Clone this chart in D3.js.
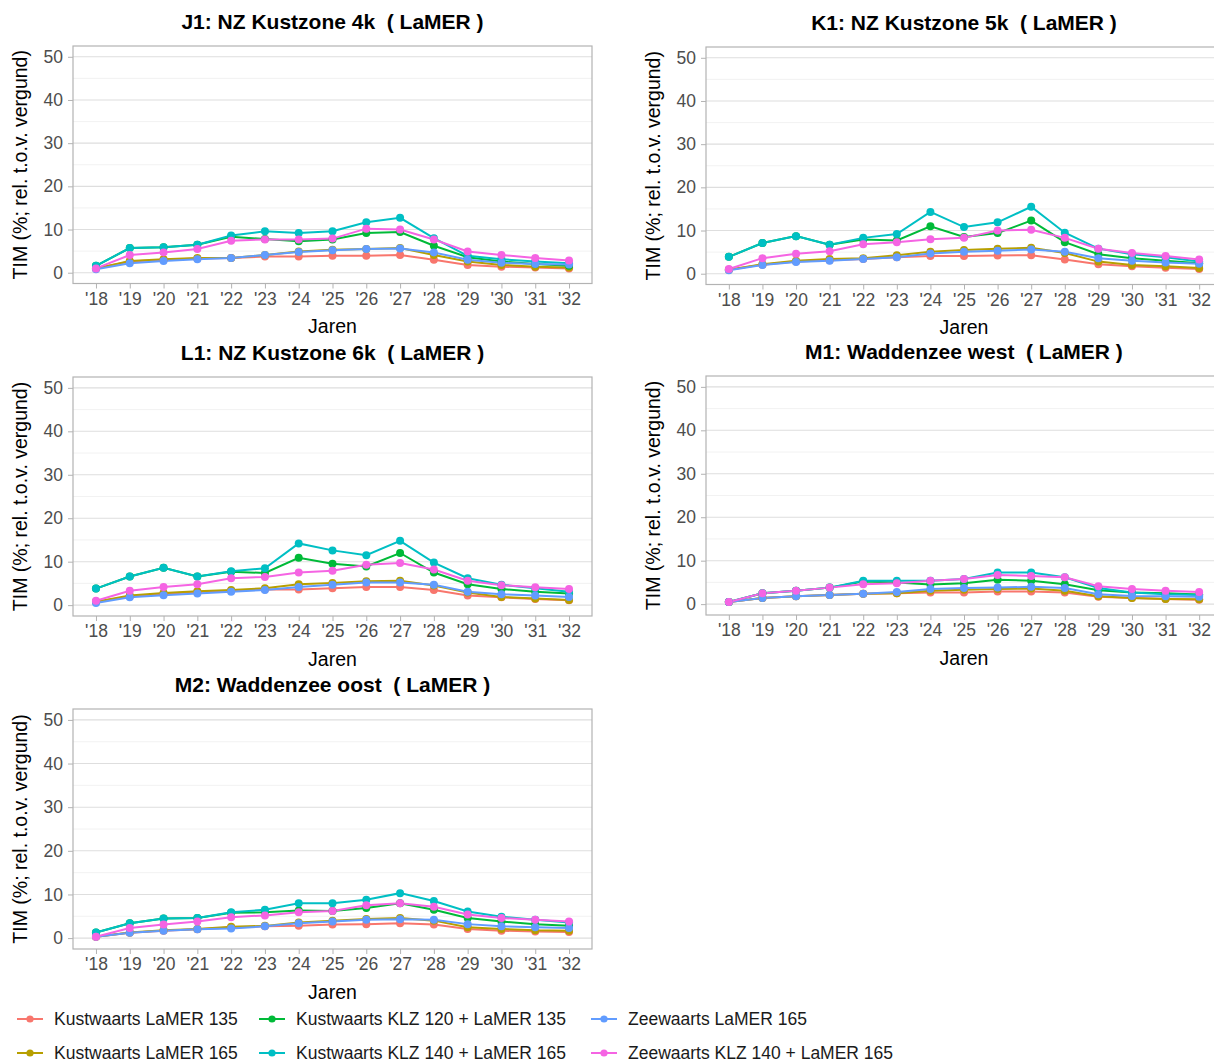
<!DOCTYPE html>
<html>
<head>
<meta charset="utf-8">
<title>TIM per gebied</title>
<script src="https://d3js.org/d3.v7.min.js"></script>
<style>
body{margin:0;background:#fff;}
svg{font-family:"Liberation Sans",Arial,sans-serif;}
text.title{white-space:pre;}
</style>
</head>
<body>
<svg id="chart" width="1214" height="1063"></svg>
<script>
// years on the x axis
var years=[2018,2019,2020,2021,2022,2023,2024,2025,2026,2027,2028,2029,2030,2031,2032];
var yearLabels=["'18","'19","'20","'21","'22","'23","'24","'25","'26","'27","'28","'29","'30","'31","'32"];
var yTicks=[0,10,20,30,40,50];

// series, in ggplot group order
var seriesNames=["Kustwaarts LaMER 135","Kustwaarts LaMER 165","Kustwaarts KLZ 120 + LaMER 135",
                 "Kustwaarts KLZ 140 + LaMER 165","Zeewaarts LaMER 165","Zeewaarts KLZ 140 + LaMER 165"];
var seriesColors=["#F8766D","#B79F00","#00BA38","#00BFC4","#619CFF","#F564E3"];

// values per panel: one row per series (same order as seriesNames)
var J1=[
 [1.0,2.6,3.0,3.3,3.4,3.75,3.75,3.9,3.9,4.1,3.0,1.8,1.4,1.2,1.0],
 [1.0,2.7,3.1,3.4,3.4,4.1,4.9,5.3,5.5,5.7,4.1,2.6,1.8,1.4,1.2],
 [1.6,5.7,5.9,6.5,8.3,7.8,7.3,7.7,9.2,9.4,6.25,3.6,2.6,2.0,1.6],
 [1.6,5.7,5.9,6.5,8.6,9.6,9.2,9.6,11.7,12.7,8.0,3.9,3.1,2.6,2.2],
 [0.8,2.2,2.7,3.1,3.4,4.1,4.8,5.2,5.5,5.6,4.7,3.0,2.3,2.0,1.9],
 [1.0,4.1,4.7,5.5,7.4,7.7,7.7,7.9,10.2,10.0,7.7,4.9,4.1,3.4,2.8]
];
var K1=[
 [0.9,2.1,2.8,3.1,3.4,3.8,4.1,4.1,4.2,4.3,3.3,2.2,1.7,1.4,1.1],
 [0.9,2.2,3.0,3.4,3.6,4.3,5.1,5.5,5.8,6.0,4.8,2.8,2.0,1.7,1.3],
 [3.9,7.1,8.7,6.7,7.9,7.7,11.0,8.5,9.4,12.3,7.3,4.5,3.6,3.0,2.4],
 [3.9,7.1,8.7,6.7,8.3,9.2,14.3,10.8,11.9,15.5,9.5,5.8,4.5,3.8,2.8],
 [0.8,2.0,2.7,3.0,3.4,3.8,4.7,5.1,5.3,5.6,5.1,3.6,3.0,2.6,2.3],
 [1.1,3.6,4.6,5.2,6.8,7.3,8.0,8.3,10.0,10.2,8.3,5.8,4.8,4.1,3.3]
];
var L1=[
 [0.8,2.0,2.6,3.0,3.3,3.6,3.6,3.9,4.2,4.2,3.5,2.2,1.8,1.4,1.1],
 [0.8,2.2,2.8,3.2,3.5,3.9,4.8,5.1,5.5,5.6,4.5,2.9,1.9,1.5,1.2],
 [3.8,6.6,8.6,6.6,7.7,7.4,10.9,9.5,8.9,12.0,7.5,4.8,3.7,3.1,2.7],
 [3.8,6.6,8.6,6.6,7.8,8.5,14.2,12.6,11.5,14.8,9.8,6.2,4.7,3.9,3.1],
 [0.5,1.8,2.3,2.7,3.1,3.5,4.2,4.7,5.2,5.2,4.7,3.1,2.5,2.2,1.9],
 [1.0,3.3,4.2,4.8,6.2,6.5,7.5,7.9,9.3,9.7,8.2,5.6,4.6,4.1,3.7]
];
var M1=[
 [0.5,1.4,1.8,2.1,2.4,2.5,2.7,2.7,2.9,2.9,2.7,1.7,1.4,1.2,1.0],
 [0.5,1.4,1.8,2.1,2.4,2.5,3.1,3.3,3.5,3.6,3.1,1.8,1.4,1.2,1.1],
 [0.5,2.5,3.1,3.8,5.2,5.0,4.5,4.8,5.6,5.4,4.6,3.2,2.7,2.5,2.2],
 [0.5,2.5,3.1,3.8,5.4,5.4,5.4,5.8,7.3,7.3,6.2,3.7,2.7,2.3,2.1],
 [0.5,1.4,1.8,2.1,2.4,2.8,3.5,3.7,3.8,4.0,3.7,2.3,1.9,1.8,1.7],
 [0.5,2.5,3.1,3.8,4.6,4.8,5.4,5.8,6.7,6.5,6.2,4.1,3.5,3.1,2.8]
];
var M2=[
 [0.3,1.2,1.7,2.0,2.4,2.7,2.8,3.1,3.2,3.4,3.1,2.1,1.7,1.5,1.4],
 [0.3,1.3,1.8,2.1,2.6,2.8,3.6,4.0,4.4,4.6,4.0,2.5,2.1,1.8,1.7],
 [1.3,3.4,4.5,4.6,5.8,5.9,6.3,6.2,6.9,8.0,6.5,4.6,3.8,3.2,2.8],
 [1.3,3.4,4.5,4.6,5.9,6.5,8.0,8.0,8.8,10.3,8.5,6.1,4.9,4.2,3.6],
 [0.3,1.2,1.7,2.0,2.2,2.7,3.4,3.8,4.2,4.3,4.2,3.2,2.7,2.5,2.3],
 [0.3,2.3,3.1,3.8,4.8,5.2,5.9,6.2,7.5,8.0,7.2,5.4,4.6,4.2,3.8]
];

var panelTitles=["J1: NZ Kustzone 4k  ( LaMER )","K1: NZ Kustzone 5k  ( LaMER )","L1: NZ Kustzone 6k  ( LaMER )",
                 "M1: Waddenzee west  ( LaMER )","M2: Waddenzee oost  ( LaMER )"];
var panelData=[J1,K1,L1,M1,M2];

// panel boxes (plot area) in pixels
var boxes=[
 {x0:73,x1:592,y0:46,y1:283.5},
 {x0:706,x1:1222,y0:47,y1:284.5},
 {x0:73,x1:592,y0:377,y1:616},
 {x0:706,x1:1222,y0:376,y1:615},
 {x0:73,x1:592,y0:709,y1:949}
];

var svg=d3.select("#chart");
var tickCol="#4D4D4D", borderCol="#B3B3B3";

panelTitles.forEach(function(title,p){
	var b=boxes[p];
	var x=d3.scalePoint().domain(years).range([b.x0,b.x1]).padding(0.68);
	var y=d3.scaleLinear().domain([-2.5,52.5]).range([b.y1,b.y0]);
	var g=svg.append("g").attr("class","panel");

	// minor grid
	g.selectAll("line.minor").data([5,15,25,35,45]).enter().append("line")
		.attr("x1",b.x0).attr("x2",b.x1)
		.attr("y1",function(d){return y(d);}).attr("y2",function(d){return y(d);})
		.attr("stroke","#EFEFEF").attr("stroke-width",0.8);
	// major grid
	g.selectAll("line.major").data(yTicks).enter().append("line")
		.attr("x1",b.x0).attr("x2",b.x1)
		.attr("y1",function(d){return y(d);}).attr("y2",function(d){return y(d);})
		.attr("stroke","#DEDEDE").attr("stroke-width",1.1);

	// axes
	var ya=g.append("g").attr("transform","translate("+b.x0+",0)")
		.call(d3.axisLeft(y).tickValues(yTicks).tickSize(5).tickPadding(5));
	var xa=g.append("g").attr("transform","translate(0,"+b.y1+")")
		.call(d3.axisBottom(x).tickSize(5).tickPadding(4).tickFormat(function(d,i){return yearLabels[i];}));
	[ya,xa].forEach(function(a){
		a.select(".domain").remove();
		a.selectAll(".tick line").attr("stroke",borderCol);
		a.selectAll(".tick text").attr("fill",tickCol).attr("font-size","17.5px")
		 .attr("font-family","Liberation Sans, Arial, sans-serif");
	});

	// border
	g.append("rect").attr("x",b.x0).attr("y",b.y0)
		.attr("width",b.x1-b.x0).attr("height",b.y1-b.y0)
		.attr("fill","none").attr("stroke",borderCol).attr("stroke-width",1.2);

	// lines, then points
	var line=d3.line().x(function(d,i){return x(years[i]);}).y(function(d){return y(d);});
	var data=panelData[p];
	g.selectAll("path.series").data(data).enter().append("path")
		.attr("d",line).attr("fill","none")
		.attr("stroke",function(d,i){return seriesColors[i];}).attr("stroke-width",2);
	data.forEach(function(s,si){
		g.selectAll("circle.s"+si).data(s).enter().append("circle")
			.attr("cx",function(d,i){return x(years[i]);})
			.attr("cy",function(d){return y(d);})
			.attr("r",4).attr("fill",seriesColors[si]);
	});

	// titles
	var cx=(b.x0+b.x1)/2;
	g.append("text").attr("class","title").attr("x",cx).attr("y",b.y0-25).attr("dy","0.36em")
		.attr("text-anchor","middle").attr("font-size","21px").attr("font-weight","bold")
		.attr("fill","#000").text(title);
	g.append("text").attr("x",cx).attr("y",b.y1+42.5).attr("dy","0.36em")
		.attr("text-anchor","middle").attr("font-size","19.5px").attr("fill","#000").text("Jaren");
	var cy=(b.y0+b.y1)/2;
	g.append("text").attr("transform","translate("+(b.x0-53)+","+cy+") rotate(-90)")
		.attr("dy","0.36em").attr("text-anchor","middle").attr("font-size","19.5px")
		.attr("fill","#000").text("TIM (%; rel. t.o.v. vergund)");
});

// legend, filled column-wise in two rows
var legendX=[30,272,604], legendY=[1019,1053];
var legend=svg.append("g").selectAll("g").data(seriesNames).enter().append("g")
	.attr("transform",function(d,i){return "translate("+legendX[Math.floor(i/2)]+","+legendY[i%2]+")";});
legend.append("line").attr("x1",-13).attr("x2",13).attr("y1",0).attr("y2",0)
	.attr("stroke",function(d,i){return seriesColors[i];}).attr("stroke-width",2);
legend.append("circle").attr("r",3.6).attr("fill",function(d,i){return seriesColors[i];});
legend.append("text").attr("x",24).attr("dy","0.36em").attr("font-size","17.5px")
	.attr("fill","#1A1A1A").text(function(d){return d;});
</script>
</body>
</html>
